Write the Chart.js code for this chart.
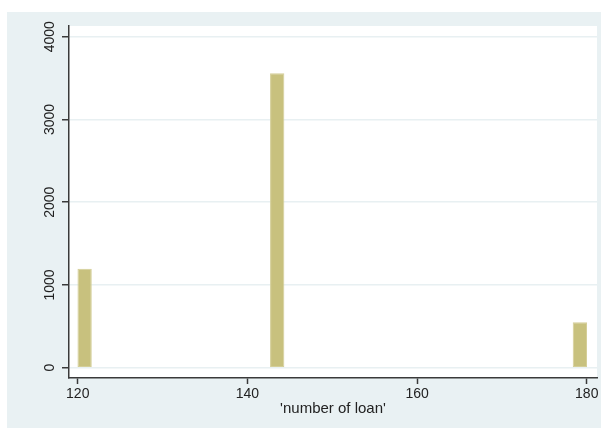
<!DOCTYPE html>
<html>
<head>
<meta charset="utf-8">
<script src="https://cdn.jsdelivr.net/npm/chart.js@4/dist/chart.umd.min.js"></script>
<style>
  html, body { margin: 0; padding: 0; background: #ffffff; }
  canvas { display: block; }
</style>
</head>
<body>
<canvas id="hist" width="601" height="428"></canvas>
<script>
// Histogram of the number of loans: 37 equal-width bins from 120 to 180
const binStart = 120;
const binEnd = 180;
const binCounts = [
  1195, 0, 0, 0, 0, 0, 0, 0, 0, 0,
  0, 0, 0, 0, 3558, 0, 0, 0, 0, 0,
  0, 0, 0, 0, 0, 0, 0, 0, 0, 0,
  0, 0, 0, 0, 0, 0, 550
];
const xTicks = [120, 140, 160, 180];
const yTicks = [0, 1000, 2000, 3000, 4000];
const xTitle = "'number of loan'";

const binWidth = (binEnd - binStart) / binCounts.length;
const points = binCounts.map((count, i) => ({ x: binStart + binWidth * (i + 0.5), y: count }));

const FONT = "'Liberation Sans', Arial, sans-serif";
const INK = '#222222';
const AXIS = '#3a3a3a';

// Outer graph region and white plot region
const regions = {
  id: 'regions',
  beforeDraw(chart) {
    const { ctx, chartArea: a } = chart;
    ctx.save();
    ctx.fillStyle = '#ffffff';
    ctx.fillRect(0, 0, chart.width, chart.height);
    ctx.fillStyle = '#e9f1f3';
    ctx.fillRect(7, 12, chart.width - 7, chart.height - 12);
    ctx.fillStyle = '#ffffff';
    ctx.fillRect(a.left, a.top, a.right - a.left, a.bottom - a.top);
    ctx.restore();
  }
};

new Chart(document.getElementById('hist'), {
  type: 'bar',
  data: {
    datasets: [{
      data: points,
      backgroundColor: '#c8c17e',
      borderColor: '#d4ce98',
      borderWidth: 1,
      borderSkipped: false,
      categoryPercentage: 1,
      barPercentage: 1.04,
      grouped: false
    }]
  },
  options: {
    responsive: false,
    animation: false,
    events: [],
    layout: { padding: { left: 0, top: 26, right: 4, bottom: 0 } },
    plugins: {
      legend: { display: false },
      tooltip: { enabled: false },
      title: { display: false }
    },
    scales: {
      x: {
        type: 'linear',
        offset: false,
        min: 118.97,
        max: 181.21,
        afterFit(scale) { scale.height = 50; },
        afterBuildTicks(scale) { scale.ticks = xTicks.map(v => ({ value: v })); },
        grid: {
          offset: false,
          drawOnChartArea: false,
          drawTicks: true,
          tickLength: 6,
          tickColor: AXIS,
          tickWidth: 1.5
        },
        border: { display: true, color: AXIS, width: 1.5 },
        ticks: {
          padding: 2,
          color: INK,
          maxRotation: 0,
          autoSkip: false,
          callback: v => String(v),
          font: { family: FONT, size: 14 }
        },
        title: {
          display: true,
          text: xTitle,
          color: INK,
          font: { family: FONT, size: 15 },
          padding: { top: 0, bottom: 10 }
        }
      },
      y: {
        type: 'linear',
        min: -125,
        max: 4130,
        afterFit(scale) { scale.width = 69; },
        afterBuildTicks(scale) { scale.ticks = yTicks.map(v => ({ value: v })); },
        grid: {
          drawOnChartArea: true,
          color: '#e8f0f2',
          lineWidth: 1.5,
          drawTicks: true,
          tickLength: 7,
          tickColor: AXIS,
          tickWidth: 1.5
        },
        border: { display: true, color: AXIS, width: 1.5 },
        ticks: {
          minRotation: 90,
          maxRotation: 90,
          crossAlign: 'center',
          padding: -4,
          color: INK,
          autoSkip: false,
          callback: v => String(v),
          font: { family: FONT, size: 14 }
        }
      }
    }
  },
  plugins: [regions]
});
</script>
</body>
</html>
